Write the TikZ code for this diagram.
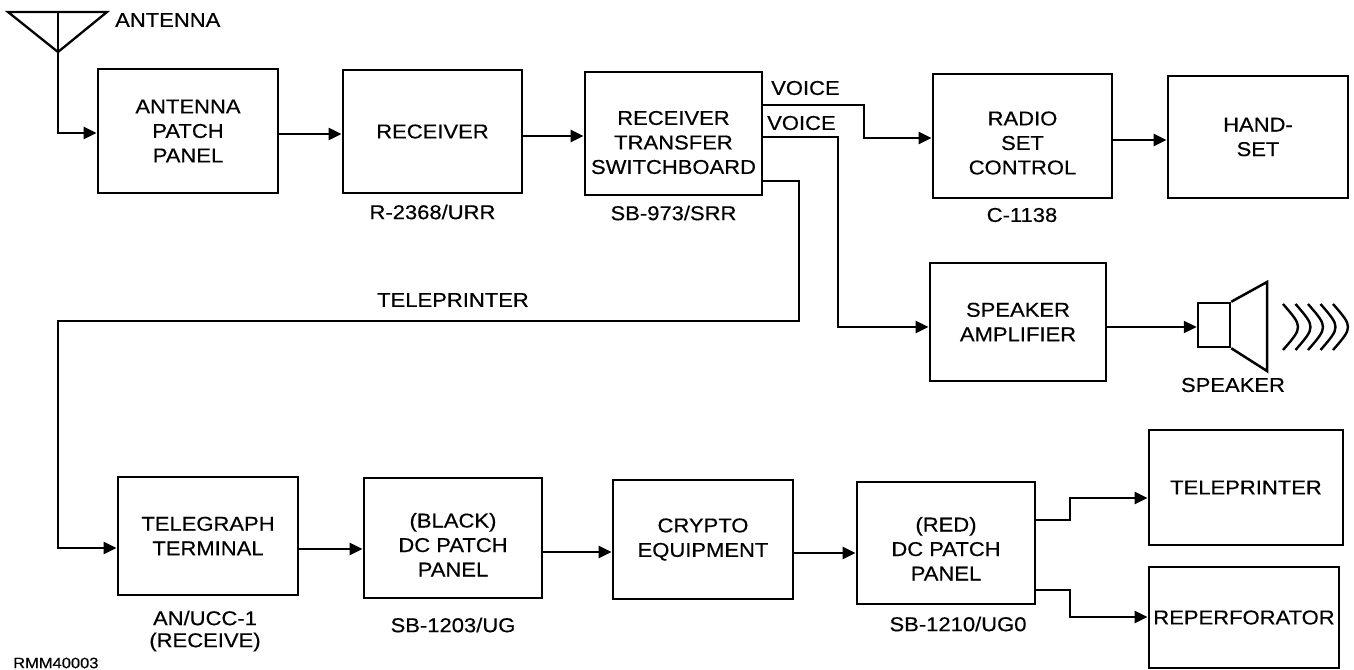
\documentclass[tikz,border=0pt]{standalone}
\usepackage{fontspec}
\setmainfont{Liberation Sans}[FakeStretch=1.1,FakeBold=0.4]
\usetikzlibrary{arrows.meta}
\newcommand\mainfnt{\fontsize{20bp}{24.5bp}\selectfont}
\newcommand\smallfnt{\fontsize{15bp}{18bp}\selectfont}
\newcommand\dn[1]{\rule{0pt}{#1}}
\begin{document}
\begin{tikzpicture}[x=1bp,y=-1bp,
  box/.style={draw, line width=2.8bp, inner sep=0pt, align=center, font=\mainfnt},
  conn/.style={line width=2.3bp, -{Triangle[length=13bp,width=12bp]}},
  wire/.style={line width=2.3bp, line join=miter},
  lbl/.style={inner sep=0pt, align=center, font=\mainfnt}]
\useasboundingbox (0,0) rectangle (1354,670);

% boxes, top row
\node[box, minimum width=180bp, minimum height=124bp] (app) at (188,131) {ANTENNA\\PATCH\\PANEL};
\node[box, minimum width=179bp, minimum height=123bp] (rcv) at (432.5,131.5) {RECEIVER};
\node[box, minimum width=177bp, minimum height=123bp] (rts) at (673.5,133.5) {\dn{32bp}RECEIVER\\TRANSFER\\SWITCHBOARD};
\node[box, minimum width=179bp, minimum height=124bp] (rsc) at (1022.5,136) {\dn{28bp}RADIO\\SET\\CONTROL};
\node[box, minimum width=180bp, minimum height=122bp] (hs) at (1258,137) {HAND-\\SET};
\node[box, minimum width=176bp, minimum height=118bp] (spa) at (1018,322) {SPEAKER\\AMPLIFIER};

% boxes, bottom row
\node[box, minimum width=180bp, minimum height=118bp] (tt) at (208,536) {TELEGRAPH\\TERMINAL};
\node[box, minimum width=178bp, minimum height=120bp] (bdc) at (453,538) {\dn{28bp}(BLACK)\\DC PATCH\\PANEL};
\node[box, minimum width=180bp, minimum height=119bp] (cry) at (703,539.5) {CRYPTO\\EQUIPMENT};
\node[box, minimum width=178bp, minimum height=122bp] (rdc) at (946,543) {\dn{26bp}(RED)\\DC PATCH\\PANEL};
\node[box, minimum width=194bp, minimum height=115bp] (tp) at (1246,487.5) {TELEPRINTER};
\node[box, minimum width=190bp, minimum height=101bp] (rp) at (1244,617.5) {REPERFORATOR};

% antenna
\draw[wire] (8,12) -- (107,12) -- (58,52) -- cycle;
\coordinate (antTop) at (58,12);
\node[lbl, anchor=west] (antl) at (115,20) {ANTENNA};

% speaker
\node[draw, line width=2.5bp, inner sep=0pt, minimum width=32bp, minimum height=44bp] (spk) at (1214,325) {};
\draw[line width=2.5bp, line join=miter] (spk.north east) -- (1267,282) -- (1267,371) -- (spk.south east);
\foreach \xx in {1283,1295.5,1308,1320.5,1333}
  \draw[line width=2.4bp] (\xx,304) .. controls (\xx+20,327) .. (\xx,350);
\node[lbl] (spkl) at (1233,385) {SPEAKER};

% connectors
\draw[conn] (antTop) |- (app.west |- 0,133);
\draw[conn] (app.east |- 0,134) -- (rcv.west |- 0,134);
\draw[conn] (rcv.east |- 0,136) -- (rts.west |- 0,136);
\draw[conn] (rts.east |- 0,105) -| (864,138) -- (rsc.west |- 0,138);
\draw[conn] (rts.east |- 0,137) -| (838,327) -- (spa.west |- 0,327);
\draw[conn] (rts.east |- 0,181) -| (799,321) -| (58,548) -- (tt.west |- 0,548);
\draw[conn] (rsc.east |- 0,140) -- (hs.west |- 0,140);
\draw[conn] (spa.east |- 0,327) -- (spk.west |- 0,327);
\draw[conn] (tt.east |- 0,549) -- (bdc.west |- 0,549);
\draw[conn] (bdc.east |- 0,552) -- (cry.west |- 0,552);
\draw[conn] (cry.east |- 0,553) -- (rdc.west |- 0,553);
\draw[conn] (rdc.east |- 0,520) -| (1070,498) -- (tp.west |- 0,498);
\draw[conn] (rdc.east |- 0,590) -| (1070,617) -- (rp.west |- 0,617);

% labels
\node[lbl, anchor=west] (v1) at (771,88) {VOICE};
\node[lbl, anchor=west] (v2) at (767,123) {VOICE};
\node[lbl] (tpl) at (453,300) {TELEPRINTER};
\node[lbl] (rcvl) at (432.5,212) {R-2368/URR};
\node[lbl] (rtsl) at (673.5,213) {SB-973/SRR};
\node[lbl] (rscl) at (1022,215) {C-1138};
\node[lbl, font=\fontsize{20bp}{22bp}\selectfont] (ttl) at (205,631) {AN/UCC-1\\(RECEIVE)};
\node[lbl] (bdcl) at (453,625) {SB-1203/UG};
\node[lbl] (rdcl) at (958,624) {SB-1210/UG0};
\node[lbl, font=\smallfnt, anchor=west] (fig) at (13,663) {RMM40003};
\end{tikzpicture}
\end{document}
